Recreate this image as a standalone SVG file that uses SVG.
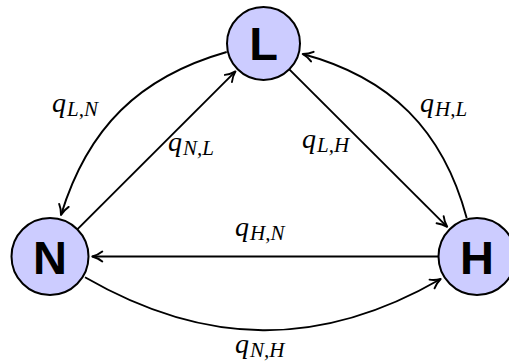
<svg xmlns="http://www.w3.org/2000/svg" width="509" height="364" viewBox="0 0 509 364">
<style>
.node circle{fill:#ccccff;stroke:#000;stroke-width:2}
.node text{font-family:"Liberation Sans",Arial,sans-serif;font-weight:bold;font-size:47px;text-anchor:middle;fill:#000}
.edge{fill:none;stroke:#000;stroke-width:1.9;marker-end:url(#arr)}
.lbl{font-family:"Liberation Serif","Times New Roman",serif;font-style:italic;font-size:28px;fill:#000}
.sub{font-size:21px}
</style>
<defs>
<marker id="arr" markerUnits="userSpaceOnUse" viewBox="-12 -7 14 14" markerWidth="14" markerHeight="14" refX="0" refY="0" orient="auto" overflow="visible">
<path d="M-10,-5 C-6.5,-2.2 -2.2,-0.6 0,0 C-2.2,0.6 -6.5,2.2 -10,5" fill="none" stroke="#000" stroke-width="1.9" stroke-linecap="round" stroke-linejoin="round"/>
</marker>
</defs>
<g id="connectors">
<path class="edge" d="M226.7,52 C139,77 87.6,128 61,215"/>
<path class="edge" d="M77.3,229.3 L235.5,71.4"/>
<path class="edge" d="M289.3,69.3 L447.2,226.8"/>
<path class="edge" d="M466.7,218 C443,130 390.6,77.6 302.7,54"/>
<path class="edge" d="M438.5,256.5 L92.3,256.5"/>
<path class="edge" d="M85,277.3 C205.4,346.8 320.3,348.5 440.7,279"/>
</g>
<g id="labels">
<text class="lbl" x="52" y="112">q<tspan class="sub" dx="1" dy="4">L,N</tspan></text>
<text class="lbl" x="168" y="151">q<tspan class="sub" dx="1" dy="4">N,L</tspan></text>
<text class="lbl" x="302" y="148">q<tspan class="sub" dx="1" dy="4">L,H</tspan></text>
<text class="lbl" x="420" y="112">q<tspan class="sub" dx="1" dy="4">H,L</tspan></text>
<text class="lbl" x="235" y="236">q<tspan class="sub" dx="1" dy="4">H,N</tspan></text>
<text class="lbl" x="235" y="353">q<tspan class="sub" dx="1" dy="4">N,H</tspan></text>
</g>
<g id="node-L" class="node"><circle cx="263.5" cy="43.5" r="36.5"/><text x="263.5" y="60">L</text></g>
<g id="node-N" class="node"><circle cx="50" cy="256.5" r="38.5"/><text x="50" y="273.5">N</text></g>
<g id="node-H" class="node"><circle cx="477" cy="256.5" r="38.5"/><text x="477" y="273.5">H</text></g>
</svg>
